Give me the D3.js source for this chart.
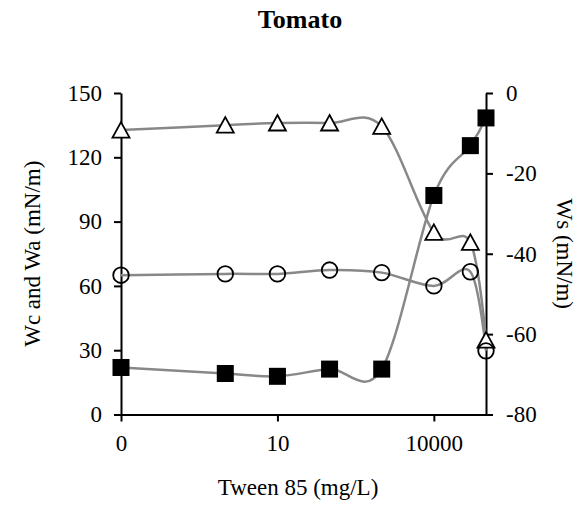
<!DOCTYPE html>
<html>
<head>
<meta charset="utf-8">
<script src="https://cdn.jsdelivr.net/npm/d3@7"></script>
<style>
  body { margin: 0; background: #fff; }
  text { font-family: "Liberation Serif", "Times New Roman", serif; fill: #000; }
</style>
</head>
<body>
<script>
// positions along the x axis (log-like, 0 at the origin)
var xPos = [0, 2, 3, 4, 5, 6, 6.7, 7];
var xTickPos = [0, 3, 6];
var xTickLabels = ["0", "10", "10000"];

// Wc (triangles) and Wa (circles) on left axis, Ws (squares) on right axis
var wc = [132.7, 135, 136, 136, 134.4, 85, 80.3, 34.7];
var wa = [65, 65.6, 65.6, 67.4, 66.2, 60, 66.6, 29.7];
var ws = [-68.3, -69.8, -70.5, -68.7, -68.7, -25.5, -13.1, -6.2];

var leftTicks = [0, 30, 60, 90, 120, 150];
var rightTicks = [-80, -60, -40, -20, 0];

var width = 584, height = 507;
var margin = { top: 93, right: 98, bottom: 93, left: 121 };

var svg = d3.select("body").append("svg")
    .attr("width", width)
    .attr("height", height);

var x = d3.scaleLinear().domain([0, 7]).range([margin.left, width - margin.right]);
var yL = d3.scaleLinear().domain([0, 150]).range([height - margin.bottom + 0.5, margin.top]);
var yR = d3.scaleLinear().domain([-80, 0]).range([height - margin.bottom + 0.5, margin.top]);

// title
svg.append("text")
    .attr("x", 300).attr("y", 28)
    .attr("text-anchor", "middle")
    .style("font-size", "26px").style("font-weight", "bold")
    .text("Tomato");

// axes
var axLeft = svg.append("g")
    .attr("transform", "translate(" + x(0) + ",0)")
    .call(d3.axisLeft(yL).tickValues(leftTicks).tickSize(7).tickPadding(12).tickSizeOuter(0));
var axRight = svg.append("g")
    .attr("transform", "translate(" + x(7) + ",0)")
    .call(d3.axisRight(yR).tickValues(rightTicks).tickSize(7).tickPadding(13).tickSizeOuter(0)
        .tickFormat(function (d) { return String(d); }));
var axBottom = svg.append("g")
    .attr("transform", "translate(0," + yL(0) + ")")
    .call(d3.axisBottom(x).tickValues(xTickPos)
        .tickFormat(function (d, i) { return xTickLabels[i]; })
        .tickSize(7).tickPadding(13).tickSizeOuter(0));

[axLeft, axRight, axBottom].forEach(function (g) {
    g.selectAll("path, line").attr("stroke", "#000").attr("stroke-width", 2);
    g.selectAll("text").style("font-size", "23px")
        .style("font-family", "'Liberation Serif', 'Times New Roman', serif");
});

// axis titles
svg.append("text")
    .attr("transform", "translate(40," + ((yL(0) + yL(150)) / 2) + ") rotate(-90)")
    .attr("text-anchor", "middle")
    .style("font-size", "23px")
    .text("Wc and Wa (mN/m)");
svg.append("text")
    .attr("transform", "translate(557," + ((yL(0) + yL(150)) / 2) + ") rotate(90)")
    .attr("text-anchor", "middle")
    .style("font-size", "23px")
    .text("Ws (mN/m)");
svg.append("text")
    .attr("x", 298).attr("y", 495)
    .attr("text-anchor", "middle")
    .style("font-size", "23px")
    .text("Tween 85 (mg/L)");

// smoothed lines
var curve = d3.curveCardinal.tension(0);
function drawLine(vals, scale) {
    svg.append("path")
        .datum(vals)
        .attr("fill", "none")
        .attr("stroke", "#888888")
        .attr("stroke-width", 2.5)
        .attr("d", d3.line()
            .x(function (d, i) { return x(xPos[i]); })
            .y(function (d) { return scale(d); })
            .curve(curve));
}
drawLine(wc, yL);
drawLine(wa, yL);
drawLine(ws, yR);

// markers
svg.selectAll(".tri").data(wc).enter().append("path")
    .attr("class", "tri")
    .attr("transform", function (d, i) { return "translate(" + x(xPos[i]) + "," + yL(d) + ")"; })
    .attr("d", "M0,-8L8.5,7.5L-8.5,7.5Z")
    .attr("fill", "#fff").attr("stroke", "#000").attr("stroke-width", 1.8);

svg.selectAll(".circ").data(wa).enter().append("circle")
    .attr("class", "circ")
    .attr("cx", function (d, i) { return x(xPos[i]); })
    .attr("cy", function (d) { return yL(d); })
    .attr("r", 7.8)
    .attr("fill", "none").attr("stroke", "#000").attr("stroke-width", 1.8);

svg.selectAll(".sq").data(ws).enter().append("rect")
    .attr("class", "sq")
    .attr("x", function (d, i) { return x(xPos[i]) - 8.5; })
    .attr("y", function (d) { return yR(d) - 8.5; })
    .attr("width", 17).attr("height", 17)
    .attr("fill", "#000");
</script>
</body>
</html>
